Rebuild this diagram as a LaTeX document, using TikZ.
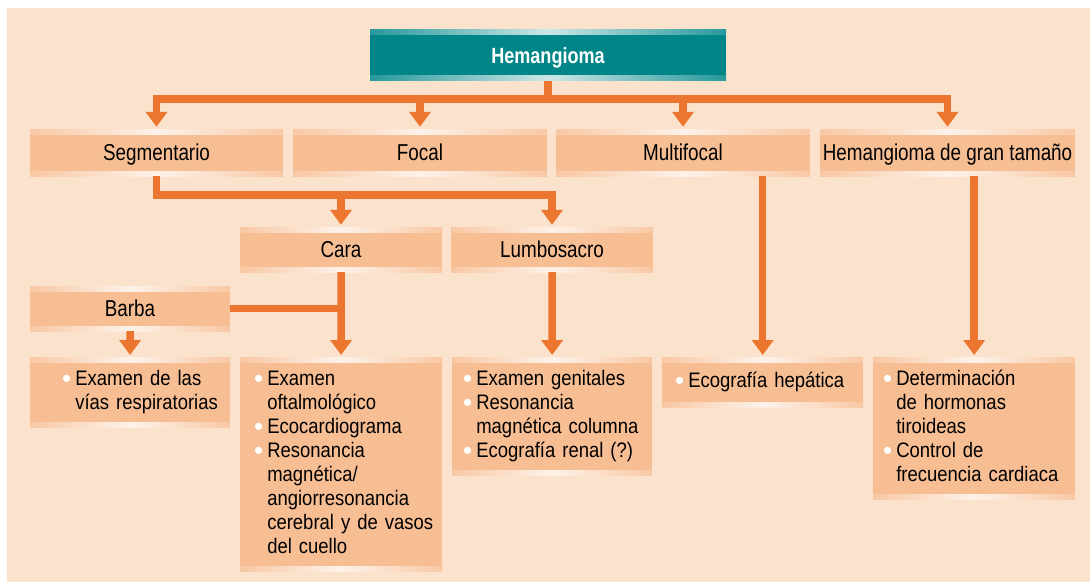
\documentclass[tikz,border=0pt]{standalone}
\usepackage{fontspec}
\setmainfont{Liberation Sans}[FakeStretch=0.82]
\newfontfamily\bodyfont{Liberation Sans}[FakeStretch=0.88]
\newfontfamily\dotfont{Liberation Sans}
\usepackage{tikz}
\usepackage{xcolor}
\usetikzlibrary{arrows.meta}

\definecolor{peach}{RGB}{251,226,205}
\definecolor{boxcol}{RGB}{247,190,148}
\definecolor{linkcol}{RGB}{236,118,48}
\definecolor{tealcol}{RGB}{0,134,137}

\newcommand{\wbullet}{\raisebox{-2.5pt}{\dotfont\fontsize{26}{24}\selectfont\textcolor{white}{•}}}
\newenvironment{bulletlist}{\begin{tabular}{@{}l@{\hspace{4pt}}l@{}}}{\end{tabular}}

\tikzset{
    glow/.style = {path picture={
        \shade[left color=white!15!#1, right color=white!15!#1, middle color=white!80!#1]
            (path picture bounding box.north west) rectangle ([yshift=-5pt]path picture bounding box.north east);
        \shade[left color=white!15!#1, right color=white!15!#1, middle color=white!80!#1]
            (path picture bounding box.south west) rectangle ([yshift=5pt]path picture bounding box.south east);
    }},
    head-box/.style = {fill=tealcol, glow=tealcol, text=white, font=\fontsize{22}{26}\selectfont\bfseries, minimum width=356pt, minimum height=51pt, inner sep=0pt, text height=16pt, text depth=0pt},
    level-box/.style = {fill=boxcol, glow=boxcol, font=\fontsize{23}{27}\selectfont, minimum height=47pt, inner sep=0pt, text height=16.8pt, text depth=0pt},
    list-box/.style = {fill=boxcol, glow=boxcol, font=\bodyfont\fontsize{21}{24}\selectfont, anchor=north west, inner xsep=0pt, inner ysep=11pt, align=left},
    link/.style = {draw=linkcol, line width=7.5pt},
    link-arrow/.style = {link, -{Triangle[width=21pt,length=15pt]}, shorten >=2pt},
}

\begin{document}
\begin{tikzpicture}[x=1pt, y=-1pt]
\useasboundingbox (0,0) rectangle (1090,582);
\fill[white] (0,0) rectangle (1090,582);
\fill[peach] (7,8) rectangle (1090,582);

\node[head-box] (hem) at (548,55) {Hemangioma};

% first level
\node[level-box, minimum width=253pt] (segm) at (156.5,152.5) {Segmentario};
\node[level-box, minimum width=254pt] (focal) at (420,152.5) {Focal};
\node[level-box, minimum width=254pt] (multi) at (683,152.5) {Multifocal};
\node[level-box, minimum width=255pt] (gran) at (947.5,152.5) {Hemangioma de gran tamaño};

% segmentario
\node[level-box, minimum width=202pt, minimum height=45pt] (cara) at (341,249.5) {Cara};
\node[level-box, minimum width=202pt, minimum height=45pt] (lumbo) at (552,249.5) {Lumbosacro};
\node[level-box, minimum width=200pt, minimum height=45pt] (barba) at (130,308.5) {Barba};

% exams
\node[list-box, text width=200pt] (vias) at (30,357) {\hspace*{32pt}\begin{bulletlist}
    \wbullet & Examen de las\\
             & vías respiratorias
\end{bulletlist}};
\node[list-box, text width=202pt] (oftal) at (240,357) {\hspace*{14pt}\begin{bulletlist}
    \wbullet & Examen\\
             & oftalmológico\\
    \wbullet & Ecocardiograma\\
    \wbullet & Resonancia\\
             & magnética/\\
             & angiorresonancia\\
             & cerebral y de vasos\\
             & del cuello
\end{bulletlist}};
\node[list-box, text width=200pt] (genit) at (452,357) {\hspace*{11pt}\begin{bulletlist}
    \wbullet & Examen genitales\\
    \wbullet & Resonancia\\
             & magnética columna\\
    \wbullet & Ecografía renal (?)
\end{bulletlist}};
\node[list-box, text width=201pt, minimum height=50pt] (hepat) at (662,357) {\hspace*{13pt}\begin{bulletlist}
    \wbullet & Ecografía hepática
\end{bulletlist}};
\node[list-box, text width=202pt] (tiro) at (873,357) {\hspace*{10pt}\begin{bulletlist}
    \wbullet & Determinación\\
             & de hormonas\\
             & tiroideas\\
    \wbullet & Control de\\
             & frecuencia cardiaca
\end{bulletlist}};

% connectors
\coordinate (bar) at (0,99);
\coordinate (sbar) at (0,195);
\draw[link] (hem) -- (hem.south |- bar);
\draw[link-arrow] (hem.south |- bar) -| (segm);
\draw[link-arrow] (hem.south |- bar) -| (gran);
\draw[link-arrow] (focal.north |- bar) -- (focal);
\draw[link-arrow] (multi.north |- bar) -- (multi);

\draw[link-arrow] (segm) |- (lumbo.north |- sbar) -- (lumbo);
\draw[link-arrow] (cara.north |- sbar) -- (cara);
\draw[link-arrow] (cara) -- (oftal);
\draw[link] (barba) -- (barba -| cara);
\draw[link-arrow] (barba) -- (vias);
\draw[link-arrow] (lumbo) -- (genit);
\draw[link-arrow] (hepat.north |- multi.south) -- (hepat);
\draw[link-arrow] (tiro.north |- gran.south) -- (tiro);
\end{tikzpicture}
\end{document}
